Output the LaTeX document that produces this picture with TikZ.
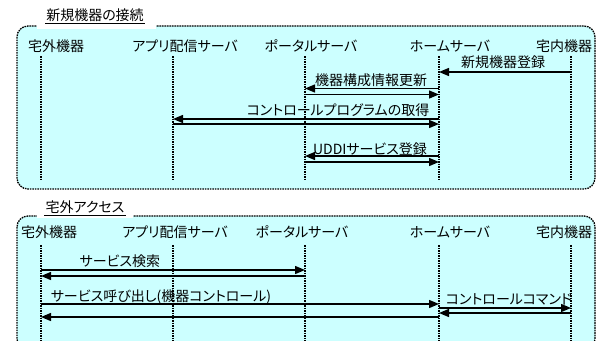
\documentclass[tikz,border=0pt]{standalone}
\usepackage{fontspec}
\setmainfont{Noto Sans CJK JP}[RawFeature=+palt]
\usetikzlibrary{arrows.meta,calc}
\definecolor{boxfill}{HTML}{CCFFFF}
\begin{document}
\begin{tikzpicture}[x=1pt,y=-1pt,
  font=\fontsize{14}{16}\selectfont,
  seqbox/.style={draw=black,fill=boxfill,line width=1.3pt,dash pattern=on 1.6pt off 0.9pt,rounded corners=11pt},
  lifeline/.style={draw=black,line width=1.2pt,dash pattern=on 1.6pt off 0.9pt},
  msg/.style={draw=black,line width=1.4pt,-{Triangle[length=10pt,width=8pt]}},
  head/.style={inner sep=0pt,anchor=center},
  lbl/.style={inner sep=0pt,anchor=center},
  ttl/.style={inner sep=0pt,anchor=center}]
\useasboundingbox (0,0) rectangle (599,340);
% lifeline x positions
\coordinate (L1) at (41,0);
\coordinate (L2) at (173,0);
\coordinate (L3) at (305,0);
\coordinate (L4) at (439,0);
\coordinate (L5) at (571,0);
% ---------- top box ----------
\draw[seqbox] (17,26) rectangle (595,189);
\fill[white] (37,14) rectangle (156,28.5);
\node[ttl] (t1) at (95,15.5) {新規機器の接続};
\draw[line width=0.8pt] ($(t1.south west)+(-1,1.5)$) -- ($(t1.south east)+(1,1.5)$);
\node[head] (ha1) at (56,46) {宅外機器};
\node[head] (ha2) at (185,46) {アプリ配信サーバ};
\node[head] (ha3) at (311,46) {ポータルサーバ};
\node[head] (ha4) at (450,46) {ホームサーバ};
\node[head] (ha5) at (564,46) {宅内機器};
\foreach \i in {1,...,5}{\draw[lifeline] (L\i |- 0,56) -- (L\i |- 0,179);}
% messages
\node[lbl] (m1) at (503,62) {新規機器登録};
\draw[msg] (L5 |- 0,72) -- (L4 |- 0,72);
\node[lbl] (m2) at (371,80.5) {機器構成情報更新};
\draw[msg] (L4 |- 0,88.5) -- (L3 |- 0,88.5);
\draw[msg] (L3 |- 0,94.5) -- (L4 |- 0,94.5);
\node[lbl] (m3) at (338,110) {コントロールプログラムの取得};
\draw[msg] (L4 |- 0,119) -- (L2 |- 0,119);
\draw[msg] (L2 |- 0,124) -- (L4 |- 0,124);
\node[lbl] (m4) at (370,149.5) {UDDIサービス登録};
\draw[msg] (L4 |- 0,156) -- (L3 |- 0,156);
\draw[msg] (L3 |- 0,162) -- (L4 |- 0,162);
% ---------- bottom box ----------
\draw[seqbox] (17,216) rectangle (595,350);
\fill[white] (37,199) rectangle (133,218);
\node[ttl] (t2) at (85,207) {宅外アクセス};
\draw[line width=0.8pt] ($(t2.south west)+(-1,1.5)$) -- ($(t2.south east)+(1,1.5)$);
\node[head] (hb1) at (49,232) {宅外機器};
\node[head] (hb2) at (175,232) {アプリ配信サーバ};
\node[head] (hb3) at (302,232) {ポータルサーバ};
\node[head] (hb4) at (450,232) {ホームサーバ};
\node[head] (hb5) at (564,232) {宅内機器};
\foreach \i in {1,...,5}{\draw[lifeline] (L\i |- 0,245) -- (L\i |- 0,345);}
\node[lbl] (s1) at (120,261) {サービス検索};
\draw[msg] (L1 |- 0,270) -- (L3 |- 0,270);
\draw[msg] (L3 |- 0,276) -- (L1 |- 0,276);
\node[lbl] (s2) at (161,296.5) {サービス呼び出し(機器コントロール)};
\draw[msg] (L1 |- 0,304) -- (L4 |- 0,304);
\draw[msg] (L4 |- 0,317) -- (L1 |- 0,317);
\node[lbl] (c1) at (509,299) {コントロールコマンド};
\draw[msg] (L4 |- 0,308) -- (L5 |- 0,308);
\draw[msg] (L5 |- 0,313) -- (L4 |- 0,313);
\end{tikzpicture}
\end{document}
